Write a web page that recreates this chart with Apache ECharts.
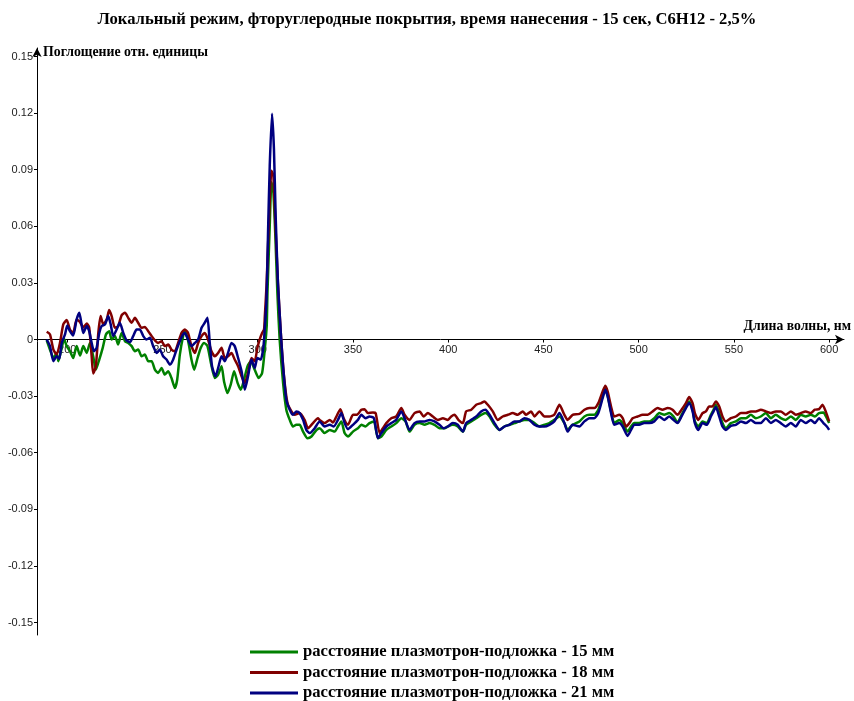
<!DOCTYPE html>
<html>
<head>
<meta charset="utf-8">
<script src="https://cdn.jsdelivr.net/npm/echarts@6/dist/echarts.min.js"></script>
<style>
html,body{margin:0;padding:0;background:#fff;}
#chart{width:854px;height:701px;}
</style>
</head>
<body>
<div id="chart"></div>
<script>
// Series names (legend)
const seriesNames = [
  'расстояние плазмотрон-подложка - 15 мм',
  'расстояние плазмотрон-подложка - 18 мм',
  'расстояние плазмотрон-подложка - 21 мм'
];
// X ticks (wavelength, nm) and Y ticks (absorbance)
const xTicks = [200, 250, 300, 350, 400, 450, 500, 550, 600];
const yTicks = [-0.15, -0.12, -0.09, -0.06, -0.03, 0, 0.03, 0.06, 0.09, 0.12, 0.15];

// [wavelength nm, absorbance] — 15 mm
const d15 = [
[189.2,-0.0004],[190.9,-0.0053],[192.7,-0.0098],[194.4,-0.0071],[195.3,-0.0115],[197.1,-0.0044],[198.3,0.0004],[199.7,-0.0035],[201.4,-0.0062],[203.1,-0.0098],[204.9,-0.0035],[206.7,-0.0085],[208.4,-0.0035],[210.2,-0.0071],[211.9,-0.0018],[213.6,-0.0089],[215.0,-0.016],[216.8,-0.0106],[218.6,-0.0044],[220.3,0.0027],[222.0,0.0044],[223.3,0.0],[225.0,0.0018],[226.7,-0.0027],[228.5,0.0035],[230.3,-0.0009],[232.0,-0.0018],[233.8,-0.0035],[235.5,-0.0062],[237.2,-0.0053],[239.0,-0.0089],[240.7,-0.008],[242.5,-0.0115],[244.3,-0.0115],[246.0,-0.016],[247.7,-0.0177],[249.5,-0.0151],[251.2,-0.0186],[253.0,-0.0168],[254.7,-0.0204],[256.5,-0.0257],[257.7,-0.0213],[259.1,-0.008],[260.8,0.0018],[261.7,0.0044],[263.4,-0.0005],[265.2,-0.0106],[266.6,-0.016],[268.4,-0.0098],[270.1,-0.0044],[271.8,-0.0018],[273.6,-0.0035],[275.4,-0.0124],[277.5,-0.0204],[279.2,-0.0186],[281.0,-0.0142],[282.3,-0.0222],[284.1,-0.0284],[285.8,-0.0239],[287.6,-0.0168],[289.4,-0.023],[291.1,-0.0266],[292.8,-0.0213],[294.6,-0.0142],[296.3,-0.0115],[298.4,-0.016],[300.5,-0.0204],[302.3,-0.0177],[303.7,-0.005],[304.7,0.0071],[305.1,0.0248],[306.3,0.0603],[307.2,0.0833],[308.2,0.078],[309.3,0.0532],[310.3,0.0248],[311.5,0.0],[313.3,-0.023],[315.0,-0.0372],[316.8,-0.0426],[318.5,-0.0461],[320.3,-0.0452],[322.0,-0.0452],[323.8,-0.0488],[326.1,-0.0523],[328.2,-0.0514],[330.8,-0.048],
[332.5,-0.047],[335.1,-0.0496],[337.8,-0.0479],[340.4,-0.0488],[342.1,-0.0461],[343.9,-0.0434],[345.6,-0.0496],[347.4,-0.0514],[350.0,-0.0488],[352.6,-0.047],[354.4,-0.0452],[356.6,-0.0461],[358.7,-0.0443],[361.0,-0.0434],[363.1,-0.0523],[364.9,-0.0514],[367.5,-0.0479],[370.1,-0.0461],[372.7,-0.0443],[375.4,-0.0417],[377.6,-0.0434],[379.7,-0.0488],[382.3,-0.0452],[385.0,-0.0443],[387.6,-0.0452],[390.2,-0.0443],[392.8,-0.0452],[395.4,-0.047],[398.1,-0.047],[399.8,-0.0461],[402.4,-0.0452],[405.0,-0.0461],[407.7,-0.0488],[409.4,-0.0452],[412.1,-0.0434],[414.7,-0.0417],[417.3,-0.0399],[419.6,-0.039],[421.7,-0.0408],[424.3,-0.0452],[426.9,-0.0479],[429.5,-0.0461],[432.1,-0.0452],[434.8,-0.0443],[437.4,-0.0434],[440.0,-0.0426],[442.6,-0.0426],[445.3,-0.0443],[447.9,-0.0461],[450.5,-0.0452],[453.1,-0.0443],[455.7,-0.0426],[458.4,-0.0408],[461.0,-0.0443],[462.7,-0.0479],[465.3,-0.0452],
[468.9,-0.0434],[471.5,-0.0408],[474.1,-0.0399],[476.7,-0.0399],[478.8,-0.0372],[481.1,-0.0301],[482.5,-0.0262],[483.7,-0.0298],[485.5,-0.0381],[487.2,-0.0443],[489.8,-0.0426],[491.6,-0.0443],[494.2,-0.0488],[496.0,-0.0461],[497.7,-0.0443],[500.3,-0.0443],[502.9,-0.0434],[505.6,-0.0434],[508.2,-0.0417],[510.8,-0.039],[513.4,-0.0399],[516.0,-0.039],[518.3,-0.0408],[520.4,-0.044],[522.5,-0.0399],[524.8,-0.0355],[526.5,-0.0328],[528.3,-0.0372],[529.5,-0.0434],[531.3,-0.0461],[533.5,-0.0434],[535.8,-0.0443],[537.9,-0.0399],[539.3,-0.0372],[540.5,-0.0346],[542.3,-0.039],[544.0,-0.0443],[545.8,-0.047],[548.4,-0.0443],[551.0,-0.0434],[553.7,-0.0417],[556.3,-0.0417],[558.9,-0.0399],[561.5,-0.0417],[564.1,-0.0408],[566.8,-0.039],[569.4,-0.0417],[572.0,-0.0399],[574.6,-0.0417],[577.2,-0.0426],[579.9,-0.0408],[582.5,-0.0426],[585.1,-0.0399],[587.7,-0.0408],[590.4,-0.0399],[592.5,-0.0408],[594.7,-0.039],[597.0,-0.0387],[598.8,-0.0417],[600.0,-0.0443]
];

// [wavelength nm, absorbance] — 18 mm
const d18 = [
[189.2,0.0041],[190.9,0.0027],[192.7,-0.0053],[194.4,-0.008],[196.2,-0.0016],[197.9,0.008],[199.7,0.0103],[201.4,0.0053],[203.1,0.0035],[204.9,0.0106],[206.7,0.0092],[208.4,0.0064],[210.2,0.0085],[211.5,0.0064],[212.8,-0.0089],[213.6,-0.018],[215.0,-0.0142],[216.3,0.0035],[217.5,0.0124],[218.9,0.008],[220.7,0.0106],[222.0,0.0156],[223.3,0.0124],[225.0,0.0062],[226.7,0.0071],[228.5,0.0128],[230.3,0.0142],[232.0,0.0115],[233.8,0.0089],[235.5,0.0115],[237.2,0.0089],[239.0,0.0062],[240.7,0.0067],[242.5,0.0044],[244.3,0.0018],[246.0,-0.0004],[247.7,-0.0018],[249.5,-0.0009],[251.2,-0.0035],[253.0,-0.0027],[254.7,-0.0053],[256.5,-0.0062],[258.2,-0.0018],[260.0,0.0035],[261.7,0.0053],[263.4,0.0035],[265.2,-0.0035],[267.0,-0.0071],[268.7,-0.0018],[270.5,0.0018],[272.2,0.0035],[273.9,0.0],[275.7,-0.0062],[277.5,-0.0089],[279.2,-0.0071],[281.0,-0.0044],[282.7,-0.0098],[284.4,-0.0089],[286.2,-0.0071],[287.9,-0.0106],[289.7,-0.0142],[291.5,-0.0195],[293.2,-0.023],[294.9,-0.0177],[296.7,-0.0098],[298.4,-0.0115],[299.8,-0.0044],[301.0,0.0],[302.3,0.0035],[303.3,0.0053],[303.7,0.012],[304.6,0.0284],[305.8,0.0603],[307.2,0.0895],[308.2,0.0869],[309.3,0.0603],[310.6,0.0301],[312.1,0.0035],[313.8,-0.0195],[315.6,-0.0337],[317.7,-0.0381],[319.4,-0.0399],[322.0,-0.039],[324.6,-0.0426],[326.4,-0.047],[329.0,-0.0443],[331.6,-0.0417],
[332.5,-0.0426],[335.1,-0.0443],[337.8,-0.0426],[339.5,-0.044],[341.3,-0.0408],[343.4,-0.0369],[345.1,-0.0417],[347.4,-0.0452],[350.0,-0.0399],[352.1,-0.0399],[354.4,-0.0372],[356.1,-0.0369],[357.8,-0.039],[360.5,-0.0387],[361.9,-0.039],[364.0,-0.0496],[365.7,-0.047],[367.5,-0.0443],[370.1,-0.0417],[372.7,-0.0408],[375.4,-0.0363],[377.1,-0.0399],[379.7,-0.0426],[382.3,-0.039],[385.0,-0.0381],[387.1,-0.0408],[389.3,-0.039],[391.9,-0.0408],[394.6,-0.0426],[397.2,-0.0417],[399.8,-0.0426],[401.6,-0.0408],[403.3,-0.0399],[405.6,-0.0429],[407.7,-0.0443],[409.4,-0.0381],[412.1,-0.0372],[414.7,-0.0346],[417.3,-0.0337],[419.0,-0.0328],[420.8,-0.0346],[423.4,-0.0381],[426.0,-0.0426],[428.6,-0.0408],[431.3,-0.0399],[433.9,-0.039],[436.5,-0.0399],[439.1,-0.0381],[440.9,-0.0399],[443.5,-0.0381],[445.3,-0.0408],[447.9,-0.0381],[450.5,-0.0408],[453.1,-0.0408],[455.7,-0.0399],[458.4,-0.0346],[461.0,-0.0399],[462.7,-0.0426],[465.3,-0.0399],
[468.9,-0.0394],[471.5,-0.0372],[474.1,-0.0363],[476.7,-0.0363],[478.8,-0.0337],[481.1,-0.0275],[482.5,-0.0245],[483.7,-0.0275],[485.5,-0.0355],[487.2,-0.0408],[489.8,-0.0399],[491.6,-0.0417],[493.4,-0.0461],[495.1,-0.0443],[496.8,-0.0417],[499.4,-0.0408],[502.1,-0.0399],[504.7,-0.0399],[507.3,-0.0381],[509.9,-0.0363],[512.5,-0.0372],[515.2,-0.0363],[517.8,-0.0372],[520.4,-0.0399],[522.5,-0.0372],[524.8,-0.0337],[526.5,-0.0305],[528.3,-0.0337],[529.5,-0.039],[531.3,-0.0426],[533.5,-0.039],[535.3,-0.0381],[537.0,-0.0355],[538.7,-0.0355],[540.5,-0.0328],[542.3,-0.0355],[544.0,-0.0408],[545.8,-0.0434],[548.4,-0.0417],[551.0,-0.0408],[553.7,-0.039],[556.3,-0.039],[558.9,-0.0381],[561.5,-0.0381],[564.1,-0.0372],[566.8,-0.0381],[569.4,-0.039],[572.0,-0.0381],[574.6,-0.0381],[577.2,-0.0399],[579.9,-0.0381],[582.5,-0.0399],[585.1,-0.039],[587.7,-0.0381],[590.4,-0.039],[592.5,-0.0372],[594.7,-0.0369],[596.5,-0.0346],[598.2,-0.0381],[600.0,-0.0434]
];

// [wavelength nm, absorbance] — 21 mm
const d21 = [
[189.2,0.0],[190.9,-0.0035],[192.7,-0.0115],[194.4,-0.0089],[195.8,-0.0103],[197.1,-0.0018],[198.8,0.0027],[200.0,0.0074],[201.4,0.0044],[203.1,0.0021],[204.9,0.0106],[206.3,0.0142],[207.5,0.008],[208.4,0.0035],[210.2,0.0071],[211.5,0.0044],[212.8,-0.0018],[214.0,-0.0062],[215.4,-0.0044],[216.8,0.0035],[218.0,0.0071],[219.8,0.008],[221.5,0.0124],[222.8,0.008],[224.1,0.0018],[225.9,0.0053],[227.6,0.0089],[229.4,0.0035],[231.1,-0.0004],[232.9,-0.0014],[234.6,0.0018],[236.4,0.0053],[238.1,0.0053],[239.9,0.0018],[241.6,0.0],[243.4,0.0009],[245.1,-0.0035],[246.9,-0.0071],[248.6,-0.0053],[250.3,-0.0089],[252.1,-0.0106],[253.9,-0.0133],[255.6,-0.0106],[257.4,-0.0053],[259.1,-0.0009],[260.8,0.0027],[261.7,0.0035],[263.4,0.0],[265.2,-0.0035],[267.0,-0.0018],[268.7,0.0],[270.5,0.0062],[272.2,0.0089],[273.6,0.0115],[274.8,-0.0018],[276.0,-0.0142],[277.8,-0.0195],[279.2,-0.0151],[281.0,-0.0089],[282.7,-0.0115],[284.4,-0.0071],[286.2,-0.0018],[287.9,-0.0035],[289.7,-0.0098],[291.5,-0.0168],[293.2,-0.0266],[294.9,-0.0195],[296.7,-0.0106],[298.4,-0.0151],[299.8,-0.0098],[301.6,-0.0106],[302.8,-0.0053],[303.3,0.0],[304.6,0.0213],[305.4,0.0567],[306.3,0.0922],[307.5,0.1197],[308.5,0.101],[309.4,0.0656],[310.6,0.0301],[312.1,0.0035],[313.3,-0.0142],[315.0,-0.0319],[316.8,-0.0372],[318.5,-0.0399],[320.3,-0.0381],[322.0,-0.039],[323.8,-0.0426],[325.5,-0.0479],[327.3,-0.0496],[329.9,-0.047],
[332.5,-0.0434],[335.1,-0.0461],[337.8,-0.0452],[339.9,-0.0461],[342.1,-0.0426],[343.9,-0.039],[345.6,-0.0443],[347.4,-0.0475],[350.0,-0.0452],[352.6,-0.0426],[354.4,-0.0399],[356.6,-0.0417],[358.7,-0.0408],[361.0,-0.0417],[363.1,-0.0523],[364.9,-0.0496],[367.5,-0.0461],[370.1,-0.0443],[372.7,-0.0426],[375.4,-0.0381],[377.1,-0.0417],[379.7,-0.0479],[382.3,-0.0443],[385.0,-0.0434],[387.6,-0.0434],[390.2,-0.0426],[392.8,-0.0434],[395.4,-0.0452],[397.5,-0.047],[399.8,-0.0461],[402.4,-0.0443],[405.0,-0.0452],[407.7,-0.0488],[409.4,-0.0443],[412.1,-0.0426],[414.7,-0.0408],[417.3,-0.0381],[419.6,-0.0372],[421.7,-0.0399],[424.3,-0.0443],[426.9,-0.0479],[429.5,-0.0461],[432.1,-0.0452],[434.8,-0.0434],[437.4,-0.0434],[440.0,-0.0417],[442.6,-0.0426],[445.3,-0.0452],[447.9,-0.0461],[450.5,-0.0461],[453.1,-0.0452],[455.7,-0.0434],[458.4,-0.039],[461.0,-0.0443],[462.7,-0.0488],[465.3,-0.0452],
[468.9,-0.0461],[471.5,-0.0434],[474.1,-0.0417],[476.7,-0.0417],[478.8,-0.039],[481.1,-0.031],[482.5,-0.0266],[483.7,-0.0301],[485.5,-0.039],[487.2,-0.0452],[489.8,-0.0443],[491.6,-0.0461],[494.2,-0.0511],[496.0,-0.0479],[497.7,-0.0452],[500.3,-0.0452],[502.9,-0.0443],[505.6,-0.0443],[508.2,-0.0434],[510.8,-0.0408],[513.4,-0.0426],[516.0,-0.0408],[518.3,-0.0426],[520.4,-0.0443],[522.5,-0.0408],[524.8,-0.0363],[526.5,-0.0337],[528.3,-0.0381],[529.5,-0.0443],[531.3,-0.0479],[533.5,-0.0443],[535.8,-0.0452],[537.9,-0.0408],[539.3,-0.0381],[540.5,-0.0358],[542.3,-0.0408],[544.0,-0.0461],[545.8,-0.0479],[548.4,-0.0458],[551.0,-0.0452],[553.7,-0.0434],[556.3,-0.0443],[558.9,-0.0426],[561.5,-0.0443],[564.1,-0.0443],[566.8,-0.0417],[569.4,-0.0443],[572.0,-0.0426],[574.6,-0.0443],[577.2,-0.0461],[579.9,-0.0443],[582.5,-0.0461],[585.1,-0.0426],[587.7,-0.0443],[590.4,-0.0426],[592.5,-0.0443],[594.7,-0.0417],[597.0,-0.0443],[598.8,-0.0461],[600.0,-0.0479]
];

const colors = ['#008000', '#800000', '#000080'];
const seriesData = [d15, d18, d21];

const serif = '"Liberation Serif", "Times New Roman", serif';
const sans = '"Liberation Sans", Arial, sans-serif';

// y range and grid geometry
const yMin = -0.1566, yMax = 0.1545;
const gridTop = 48, gridBottom = 66, chartH = 701;
const plotH = chartH - gridTop - gridBottom;
const zeroFromBottom = (0 - yMin) / (yMax - yMin) * plotH; // distance from plot bottom to zero line

const chart = echarts.init(document.getElementById('chart'), null, {renderer: 'canvas'});
chart.setOption({
  animation: false,
  backgroundColor: '#fff',
  title: {
    text: 'Локальный режим, фторуглеродные покрытия, время нанесения - 15 сек, C6H12 - 2,5%',
    left: 'center',
    top: 6,
    textStyle: {fontFamily: serif, fontWeight: 'bold', fontSize: 16.6, color: '#000'}
  },
  legend: {
    orient: 'vertical',
    left: 250,
    top: 643,
    height: 64,
    padding: 0,
    itemWidth: 48,
    itemHeight: 3,
    itemGap: 2.5,
    icon: 'rect',
    textStyle: {fontFamily: serif, fontWeight: 'bold', fontSize: 16.6, color: '#000', lineHeight: 16, padding: [0, 0, 2, 0]},
    data: seriesNames
  },
  grid: {left: 37, right: 9, top: gridTop, bottom: gridBottom, containLabel: false},
  xAxis: {
    type: 'value',
    min: 184.1,
    max: 607.8,
    position: 'bottom',
    offset: -zeroFromBottom,
    name: 'Длина волны, нм',
    nameLocation: 'end',
    nameGap: 7,
    nameTextStyle: {fontFamily: serif, fontWeight: 'bold', fontSize: 13.7, color: '#000', align: 'right', verticalAlign: 'bottom', padding: [0, 0, 6, 0]},
    axisLine: {onZero: false, symbol: ['none', 'arrow'], symbolSize: [7, 9], lineStyle: {color: '#000', width: 1}},
    axisTick: {show: true, length: 3, customValues: xTicks, lineStyle: {color: '#000'}},
    axisLabel: {customValues: xTicks, fontFamily: sans, fontSize: 11, color: '#222', margin: 5},
    splitLine: {show: false}
  },
  yAxis: {
    type: 'value',
    min: yMin,
    max: yMax,
    name: 'Поглощение отн. единицы',
    nameLocation: 'end',
    nameGap: -4,
    nameTextStyle: {fontFamily: serif, fontWeight: 'bold', fontSize: 13.8, color: '#000', align: 'left', verticalAlign: 'middle', padding: [0, 0, 0, 6]},
    axisLine: {show: true, onZero: false, symbol: ['none', 'arrow'], symbolSize: [7, 9], lineStyle: {color: '#000', width: 1}},
    axisTick: {show: true, length: 3, customValues: yTicks, lineStyle: {color: '#000'}},
    axisLabel: {
      customValues: yTicks, fontFamily: sans, fontSize: 11, color: '#222', margin: 4,
      formatter: v => (Math.abs(v) < 1e-9 ? '0' : (+v).toFixed(2))
    },
    splitLine: {show: false}
  },
  series: seriesData.map((d, i) => ({
    name: seriesNames[i],
    type: 'line',
    data: d,
    showSymbol: false,
    symbol: 'none',
    smooth: 0.2,
    color: colors[i],
    lineStyle: {color: colors[i], width: 2.5},
    z: 2 + i
  }))
});
</script>
</body>
</html>
